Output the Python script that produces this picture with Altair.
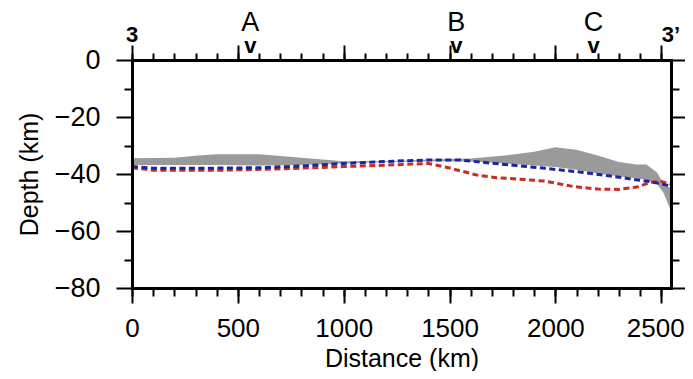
import altair as alt
import pandas as pd

# ---- data ----
band_d = [0, 200, 300, 400, 600, 800, 1000, 1200, 1400, 1600, 1800, 1900, 2000, 2100, 2200, 2300, 2380, 2430, 2480, 2510, 2546]
band_top = [-34.5, -34.3, -33.6, -33.1, -33.1, -34.3, -35.5, -35.5, -34.9, -34.6, -33.2, -32.2, -30.6, -31.5, -33.5, -35.8, -36.7, -36.7, -39.5, -43.3, -45.0]
band_bottom = [-36.8, -36.8, -36.8, -36.8, -37.0, -36.8, -36.3, -35.8, -35.5, -35.6, -36.5, -37.0, -37.5, -38.5, -39.8, -40.8, -41.5, -42.0, -43.5, -46.5, -53.0]

blue_d = [0, 100, 300, 600, 800, 1000, 1200, 1400, 1550, 1700, 1850, 1950, 2100, 2250, 2370, 2450, 2546]
blue_v = [-37.4, -38.0, -38.0, -37.8, -37.2, -36.3, -35.6, -35.1, -35.1, -36.2, -37.3, -38.0, -39.2, -40.6, -41.9, -42.7, -44.2]

red_d = [0, 100, 400, 700, 1000, 1200, 1400, 1500, 1630, 1720, 1830, 1950, 2085, 2200, 2300, 2385, 2450, 2500, 2546]
red_v = [-37.8, -38.7, -38.7, -38.2, -37.4, -36.9, -36.3, -37.9, -40.4, -41.3, -41.8, -42.5, -44.4, -45.3, -45.4, -44.6, -42.9, -42.6, -43.6]

mark_d = [559, 1532, 2180]
mark_labels = ["A", "B", "C"]
end_d = [0, 2546]
end_labels = ["3", "3\u2019"]

x_major = [0, 500, 1000, 1500, 2000, 2500]
x_minor = list(range(0, 2501, 100))
y_major = [0, -20, -40, -60, -80]
y_minor = [-10, -30, -50, -70]

FONT = "Liberation Sans"

band_df = pd.DataFrame({"d": band_d, "top": band_top, "bottom": band_bottom})
blue_df = pd.DataFrame({"d": blue_d, "v": blue_v})
red_df = pd.DataFrame({"d": red_d, "v": red_v})
marks_df = pd.DataFrame({"d": mark_d, "label": mark_labels})
ends_df = pd.DataFrame({"d": end_d, "label": end_labels})

xs = alt.Scale(domain=[0, 2546], nice=False, zero=False)
ys = alt.Scale(domain=[-80, 0], nice=False, zero=False)

common = dict(grid=False, tickColor="black", tickWidth=2, domainColor="black",
              domainWidth=3, domainCap="square", zindex=1, labelFont=FONT,
              labelFontSize=27, labelColor="black", titleFont=FONT,
              titleFontSize=25, titleFontWeight="normal", titleColor="black")
nodomain = {k: v for k, v in common.items() if not k.startswith("domain")}

bottom_common = dict(common)
bottom_common["labelFontSize"] = 26

ax_bottom_major = alt.Axis(orient="bottom", values=x_major, tickSize=15, format="d",
                           labelPadding=12, labelFlush=False, labelOverlap=False,
                           labelOffset={"condition": {"test": "datum.value == 2500", "value": -6}, "value": 0},
                           title="Distance (km)", titlePadding=5, **bottom_common)
ax_bottom_minor = alt.Axis(orient="bottom", values=x_minor, tickSize=8, labels=False,
                           domain=False, title=None, **nodomain)
ax_top_major = alt.Axis(orient="top", values=x_major, tickSize=15, labels=False,
                        title=None, **common)
ax_top_minor = alt.Axis(orient="top", values=x_minor, tickSize=7, labels=False,
                        domain=False, title=None, **nodomain)
ax_left_major = alt.Axis(orient="left", values=y_major, tickSize=16, format="d",
                         labelPadding=16, labelFlush=False, labelOverlap=False,
                         title="Depth (km)", titlePadding=12, **common)
ax_left_minor = alt.Axis(orient="left", values=y_minor, tickSize=8, labels=False,
                         domain=False, title=None, **nodomain)
ax_right_major = alt.Axis(orient="right", values=y_major, tickSize=16, labels=False,
                          title=None, **common)
ax_right_minor = alt.Axis(orient="right", values=y_minor, tickSize=8, labels=False,
                          domain=False, title=None, **nodomain)

band = alt.Chart(band_df).mark_area(color="#9a9a9a", opacity=1).encode(
    x=alt.X("d:Q", scale=xs, axis=ax_bottom_major),
    y=alt.Y("top:Q", scale=ys, axis=ax_left_major),
    y2="bottom:Q",
)

red = alt.Chart(red_df).mark_line(color="#cc2b22", strokeWidth=3, strokeDash=[6, 3.5]).encode(
    x=alt.X("d:Q", scale=xs, axis=ax_bottom_minor),
    y=alt.Y("v:Q", scale=ys, axis=ax_left_minor),
)

blue = alt.Chart(blue_df).mark_line(color="#1c23a6", strokeWidth=3, strokeDash=[6, 3.5]).encode(
    x=alt.X("d:Q", scale=xs, axis=ax_top_major),
    y=alt.Y("v:Q", scale=ys, axis=ax_right_major),
)

ghost = alt.Chart(blue_df).mark_line(opacity=0).encode(
    x=alt.X("d:Q", scale=xs, axis=ax_top_minor),
    y=alt.Y("v:Q", scale=ys, axis=ax_right_minor),
)

letters = alt.Chart(marks_df).mark_text(font=FONT, fontSize=27, baseline="alphabetic",
                                         align="center", color="black").encode(
    x=alt.X("d:Q", scale=xs, axis=None), y=alt.value(-29), text="label:N")

vees = alt.Chart(marks_df).mark_text(font=FONT, fontSize=22, fontWeight="bold",
                                      baseline="alphabetic", align="center", color="black").encode(
    x=alt.X("d:Q", scale=xs, axis=None), y=alt.value(-7), text=alt.value("v"))

ends = alt.Chart(ends_df).mark_text(font=FONT, fontSize=22, fontWeight="bold",
                                     baseline="alphabetic", align="center", color="black").encode(
    x=alt.X("d:Q", scale=xs, axis=None), y=alt.value(-18), text="label:N")

chart = alt.layer(band, red, blue, ghost, letters, vees, ends).resolve_scale(
    x="shared", y="shared"
).resolve_axis(
    x="independent", y="independent"
).properties(
    width=539, height=228,
    autosize=alt.AutoSizeParams(type="none"),
    padding={"left": 124, "top": 52, "right": 14, "bottom": 83},
    background="white",
).configure_view(stroke=None)

chart.save("out.html", embed_options={"renderer": "svg", "actions": False})
